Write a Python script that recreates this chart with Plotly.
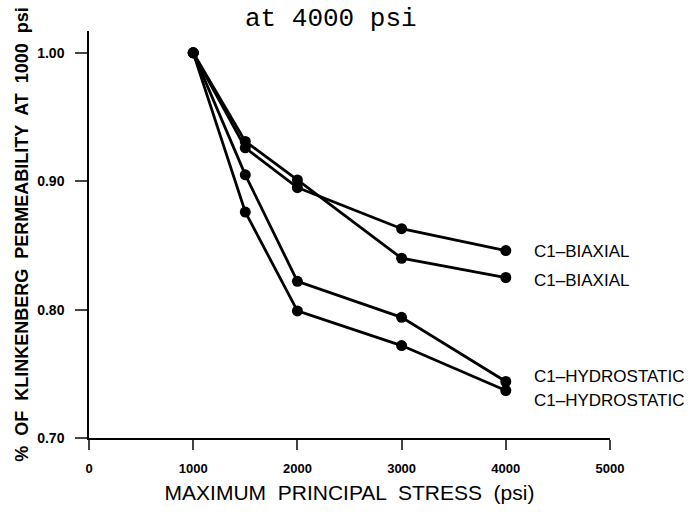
import plotly.graph_objects as go

stress = [1000, 1500, 2000, 3000, 4000]
biaxial_a = [1.000, 0.926, 0.895, 0.863, 0.846]
biaxial_b = [1.000, 0.931, 0.901, 0.840, 0.825]
hydro_a = [1.000, 0.905, 0.822, 0.794, 0.744]
hydro_b = [1.000, 0.876, 0.799, 0.772, 0.737]
series = [biaxial_a, biaxial_b, hydro_a, hydro_b]
labels = ["C1\u2013BIAXIAL", "C1\u2013BIAXIAL", "C1\u2013HYDROSTATIC", "C1\u2013HYDROSTATIC"]
label_y = [0.845, 0.823, 0.748, 0.729]

x_ticks = [0, 1000, 2000, 3000, 4000, 5000]
y_ticks = [0.70, 0.80, 0.90, 1.00]
y_tick_text = ["0.70", "0.80", "0.90", "1.00"]

fig = go.Figure()
for s in series:
    fig.add_trace(go.Scatter(
        x=stress, y=s, mode="lines+markers",
        line=dict(color="black", width=2.8),
        marker=dict(color="black", size=11),
        showlegend=False, hoverinfo="skip"))

for lab, ly in zip(labels, label_y):
    fig.add_annotation(x=4251, y=ly, xref="x", yref="y", text=lab,
                       showarrow=False, xanchor="left", yanchor="middle",
                       font=dict(family="Liberation Sans, Arial", size=17, color="black"))

fig.add_annotation(x=0.465, y=1.0, xref="paper", yref="paper", yshift=12,
                   yanchor="middle",
                   text="at 4000 psi", showarrow=False,
                   font=dict(family="Liberation Mono, Courier New, monospace", size=26, color="black"))

fig.update_layout(
    width=692, height=515,
    margin=dict(l=89, r=82, t=31, b=77),
    paper_bgcolor="white", plot_bgcolor="white",
    font=dict(family="Liberation Sans, Arial", color="black"),
    xaxis=dict(range=[0, 5000], tickvals=x_ticks, ticks="outside", ticklen=10,
               tickwidth=1.5, showline=True, linecolor="black", linewidth=1.5,
               showgrid=False, zeroline=False, ticklabelstandoff=8,
               tickfont=dict(family="Liberation Sans", size=13, color="black", weight="bold"),
               title=dict(text="MAXIMUM  PRINCIPAL  STRESS  (psi)",
                          font=dict(family="Liberation Sans", size=21, color="black"),
                          standoff=10)),
    yaxis=dict(range=[0.70, 1.017], tickvals=y_ticks, ticktext=y_tick_text,
               ticks="outside", ticklen=12, tickwidth=1.5,
               showline=True, linecolor="black", linewidth=1.5,
               showgrid=False, zeroline=False, ticklabelstandoff=8,
               tickfont=dict(family="Liberation Sans", size=14, color="black", weight="bold"),
               title=dict(text="%  OF  KLINKENBERG  PERMEABILITY  AT  1000  psi",
                          font=dict(family="Liberation Sans", size=18, color="black", weight="bold"),
                          standoff=4)),
)

fig.write_html("out.html")
